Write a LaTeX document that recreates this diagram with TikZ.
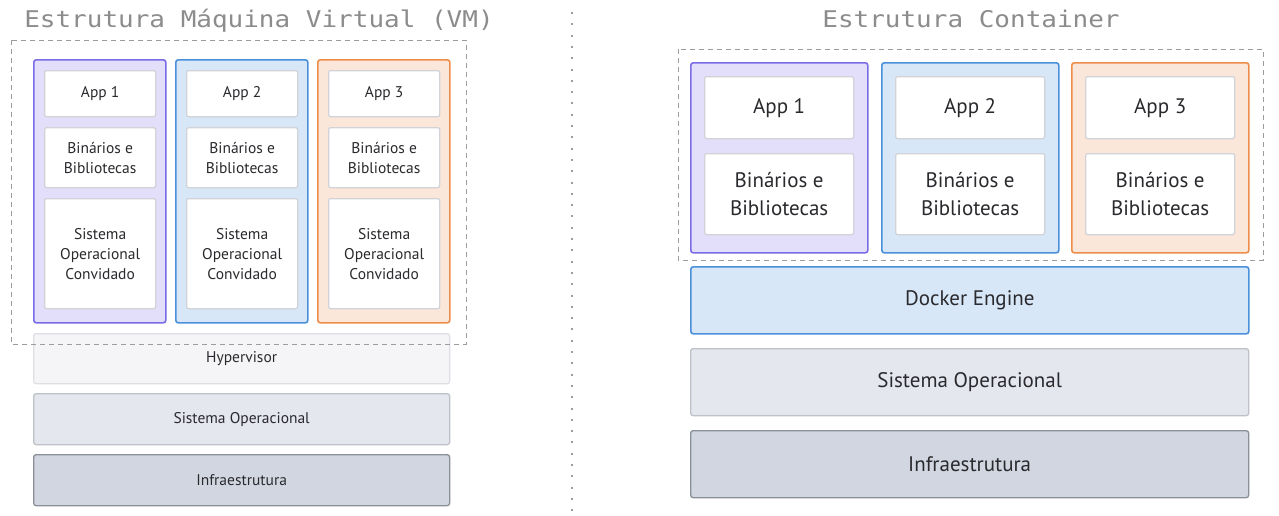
\documentclass[tikz,border=0pt]{standalone}
\usepackage{fontspec}
\setmainfont{PT Sans}
\newfontfamily\titlefont[FakeStretch=1.13]{DejaVu Sans Mono}
\definecolor{purfill}{HTML}{E3DFFB}
\definecolor{purline}{HTML}{7A6BE6}
\definecolor{blufill}{HTML}{D7E7F8}
\definecolor{bluline}{HTML}{4A90DA}
\definecolor{orafill}{HTML}{FBE7DA}
\definecolor{oraline}{HTML}{EE8C4A}
\definecolor{innline}{HTML}{D2D3D8}
\definecolor{hypfill}{HTML}{F5F5F8}
\definecolor{hypline}{HTML}{DEDFE3}
\definecolor{osfill}{HTML}{E5E7EE}
\definecolor{osline}{HTML}{BFC1C8}
\definecolor{inffill}{HTML}{D1D6E0}
\definecolor{infline}{HTML}{8A8F98}
\definecolor{txt}{HTML}{2A2A2E}
\definecolor{ttl}{HTML}{8C8C8C}
\definecolor{dashgray}{HTML}{9C9C9C}
\tikzset{
  box/.style={draw, rounded corners=2.5pt, anchor=north west, inner sep=0pt, align=center, text=txt},
  colpur/.style={box, fill=purfill, draw=purline, line width=1.6pt},
  colblu/.style={box, fill=blufill, draw=bluline, line width=1.6pt},
  colora/.style={box, fill=orafill, draw=oraline, line width=1.6pt},
  inner/.style={box, fill=white, draw=innline, line width=1.3pt, rounded corners=2pt},
  smalltxt/.style={font=\fontsize{15.5}{20}\selectfont},
  bigtxt/.style={font=\fontsize{21}{28}\selectfont},
  hyp/.style={box, fill=hypfill, draw=hypline, line width=1.3pt},
  os/.style={box, fill=osfill, draw=osline, line width=1.3pt},
  infra/.style={box, fill=inffill, draw=infline, line width=1.3pt},
  docker/.style={box, fill=blufill, draw=bluline, line width=1.6pt},
  group/.style={draw=dashgray, line width=1pt, dash pattern=on 5pt off 4pt},
  divider/.style={draw=dashgray, line width=2pt, dash pattern=on 2pt off 9.3pt},
  title/.style={text=ttl, font=\titlefont\fontsize{23}{27}\selectfont, anchor=base, inner sep=0pt},
}
\begin{document}
\begin{tikzpicture}[x=1pt,y=-1pt]
\useasboundingbox[fill=white] (0,0) rectangle (1279,515);
% titles
\node[title] (t1) at (259,27.5) {Estrutura Máquina Virtual (VM)};
\node[title] (t2) at (971,27.5) {Estrutura Container};
% divider
\coordinate (dtop) at (572,12);
\coordinate (dbot) at (572,511);
\draw[divider] (dtop) -- (dbot);
% ---------- VM ----------
\node[colpur, minimum width=132pt, minimum height=263pt] (vc1) at (33,59) {};
\node[colblu, minimum width=132pt, minimum height=263pt] (vc2) at (175,59) {};
\node[colora, minimum width=132pt, minimum height=263pt] (vc3) at (317,59) {};
\foreach \i/\x in {1/44,2/186,3/328}{
  \node[inner, smalltxt, minimum width=111pt, minimum height=46pt] (vapp\i) at (\x,70) {App \i};
  \node[inner, smalltxt, minimum width=111pt, minimum height=60pt] (vbin\i) at (\x,127) {Binários e\\Bibliotecas};
  \node[inner, smalltxt, minimum width=111pt, minimum height=110pt] (vos\i) at (\x,198) {Sistema\\Operacional\\Convidado};
}
\node[hyp, smalltxt, minimum width=416pt, minimum height=50pt] (hyp) at (33,333) {Hypervisor};
\node[os, smalltxt, minimum width=416pt, minimum height=51pt] (vos) at (33,393) {Sistema Operacional};
\node[infra, smalltxt, minimum width=416pt, minimum height=51pt] (vinf) at (33,454) {Infraestrutura};
\draw[group] (11,40) rectangle (466,344);
% ---------- Container ----------
\node[colpur, minimum width=177pt, minimum height=190pt] (cc1) at (690,62) {};
\node[colblu, minimum width=177pt, minimum height=190pt] (cc2) at (881,62) {};
\node[colora, minimum width=177pt, minimum height=190pt] (cc3) at (1071,62) {};
\foreach \i/\x in {1/704,2/895,3/1085}{
  \node[inner, bigtxt, minimum width=149pt, minimum height=62pt] (capp\i) at (\x,76) {App \i};
  \node[inner, bigtxt, minimum width=149pt, minimum height=81pt] (cbin\i) at (\x,153) {Binários e\\Bibliotecas};
}
\draw[group] (678,49) rectangle (1263,260);
\node[docker, bigtxt, minimum width=558pt, minimum height=67pt] (dock) at (690,266) {Docker Engine};
\node[os, bigtxt, minimum width=558pt, minimum height=67pt] (cos) at (690,348) {Sistema Operacional};
\node[infra, bigtxt, minimum width=558pt, minimum height=67pt] (cinf) at (690,430) {Infraestrutura};
\end{tikzpicture}
\end{document}
